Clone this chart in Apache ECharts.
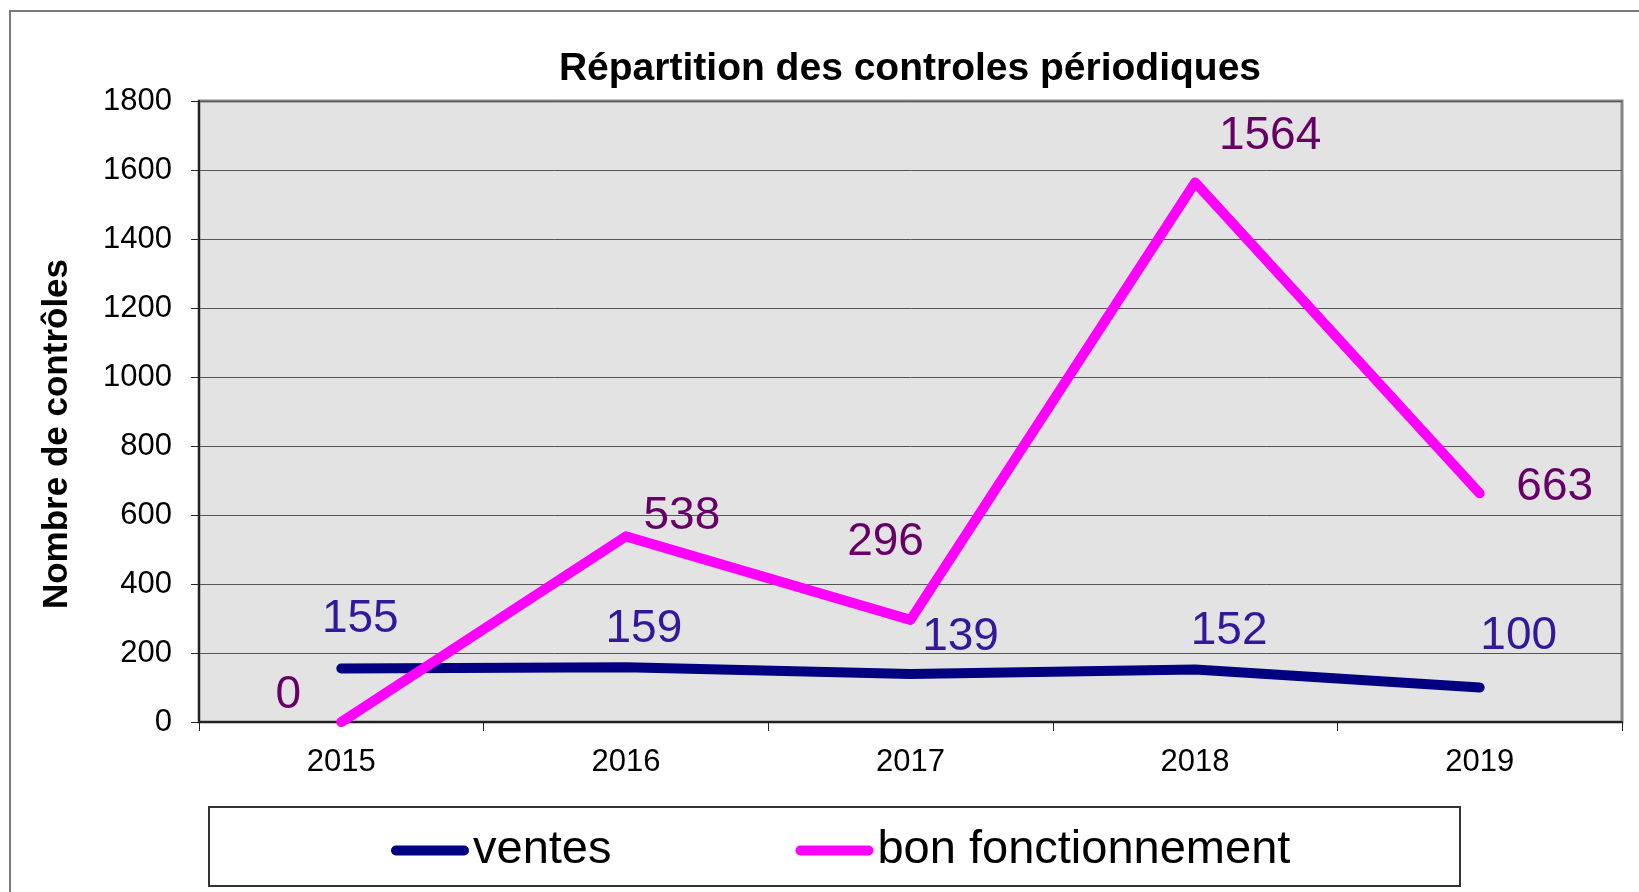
<!DOCTYPE html>
<html>
<head>
<meta charset="utf-8">
<title>Répartition des controles périodiques</title>
<script src="https://cdn.jsdelivr.net/npm/echarts@6/dist/echarts.min.js"></script>
<style>
  html, body { margin: 0; padding: 0; background: #fff; }
  #chart { width: 1639px; height: 892px; }
</style>
</head>
<body>
<div id="chart"></div>
<script>
// Years on the category axis
const years = ['2015', '2016', '2017', '2018', '2019'];
// Number of checks per year, per type
const ventes = [155, 159, 139, 152, 100];
const bonFonctionnement = [0, 538, 296, 1564, 663];
// Value axis range
const yMin = 0;
const yMax = 1800;
const yStep = 200;

// Hand-placed label shifts (px) around each point
const ventesLabelShift = [[19, -49], [18, -38], [50, -37], [34, -38], [39, -51]];
const bonLabelShift = [[-53, -27], [56, -20], [-25, -78], [75, -46], [75, -6]];

const FONT = '"Liberation Sans", Arial, sans-serif';

const chart = echarts.init(document.getElementById('chart'), null, { renderer: 'canvas' });

function withLabels(values, shifts) {
  return values.map((v, i) => ({ value: v, label: { offset: shifts[i] } }));
}

chart.setOption({
  backgroundColor: '#ffffff',
  animation: false,
  title: {
    text: 'Répartition des controles périodiques',
    left: 905,
    top: 45,
    textAlign: 'center',
    textStyle: { fontFamily: FONT, fontSize: 39, fontWeight: 'bold', color: '#000' }
  },
  legend: {
    data: ['ventes', 'bon fonctionnement'],
    left: 386,
    top: 822,
    icon: 'path://M5,0 L73,0 A5,5 0 0 1 73,10 L5,10 A5,5 0 0 1 5,0 Z',
    itemWidth: 80,
    itemHeight: 10,
    itemGap: 184,
    textStyle: { fontFamily: FONT, fontSize: 47, color: '#000', padding: [0, 0, 0, -2] }
  },
  grid: {
    left: 199,
    top: 101,
    right: 17,
    bottom: 170,
    show: true,
    backgroundColor: '#e3e3e3',
    borderColor: '#858585',
    borderWidth: 3
  },
  xAxis: {
    type: 'category',
    data: years,
    boundaryGap: true,
    axisLine: { show: true, lineStyle: { color: '#222', width: 2 } },
    axisTick: { show: true, length: 9, inside: false, lineStyle: { color: '#222', width: 1 } },
    axisLabel: { fontFamily: FONT, fontSize: 31, color: '#000', margin: 25 },
    splitLine: { show: false }
  },
  yAxis: {
    type: 'value',
    min: yMin,
    max: yMax,
    interval: yStep,
    axisLine: { show: true, lineStyle: { color: '#222', width: 2 } },
    axisTick: { show: true, length: 8, lineStyle: { color: '#222', width: 1 } },
    axisLabel: {
      fontFamily: FONT,
      fontSize: 31,
      color: '#000',
      margin: 27,
      formatter: (v) => String(v)
    },
    splitLine: { show: true, lineStyle: { color: '#555', width: 1 } }
  },
  graphic: [
    {
      type: 'rect',
      z: -1,
      shape: { x: 10, y: 11, width: 1700, height: 1000 },
      style: { fill: 'none', stroke: '#7a7a7a', lineWidth: 2 }
    },
    {
      type: 'rect',
      z: -1,
      shape: { x: 209, y: 807, width: 1251, height: 79 },
      style: { fill: '#fff', stroke: '#333', lineWidth: 2 }
    },
    {
      type: 'text',
      x: 57,
      y: 434,
      rotation: Math.PI / 2,
      style: {
        text: 'Nombre de contrôles',
        fontFamily: FONT,
        fontSize: 35,
        fontWeight: 'bold',
        fill: '#000',
        align: 'center',
        verticalAlign: 'middle'
      }
    }
  ],
  series: [
    {
      name: 'ventes',
      type: 'line',
      data: withLabels(ventes, ventesLabelShift),
      symbol: 'circle',
      symbolSize: 1,
      showSymbol: true,
      itemStyle: { color: '#000080' },
      lineStyle: { color: '#000080', width: 10, cap: 'round', join: 'round' },
      label: {
        show: true,
        position: 'inside',
        fontFamily: FONT,
        fontSize: 46,
        color: '#33199a'
      },
      z: 3
    },
    {
      name: 'bon fonctionnement',
      type: 'line',
      data: withLabels(bonFonctionnement, bonLabelShift),
      symbol: 'circle',
      symbolSize: 1,
      showSymbol: true,
      itemStyle: { color: '#ff00ff' },
      lineStyle: { color: '#ff00ff', width: 10, cap: 'round', join: 'round' },
      label: {
        show: true,
        position: 'inside',
        fontFamily: FONT,
        fontSize: 46,
        color: '#660066'
      },
      z: 4
    }
  ]
});
</script>
</body>
</html>
